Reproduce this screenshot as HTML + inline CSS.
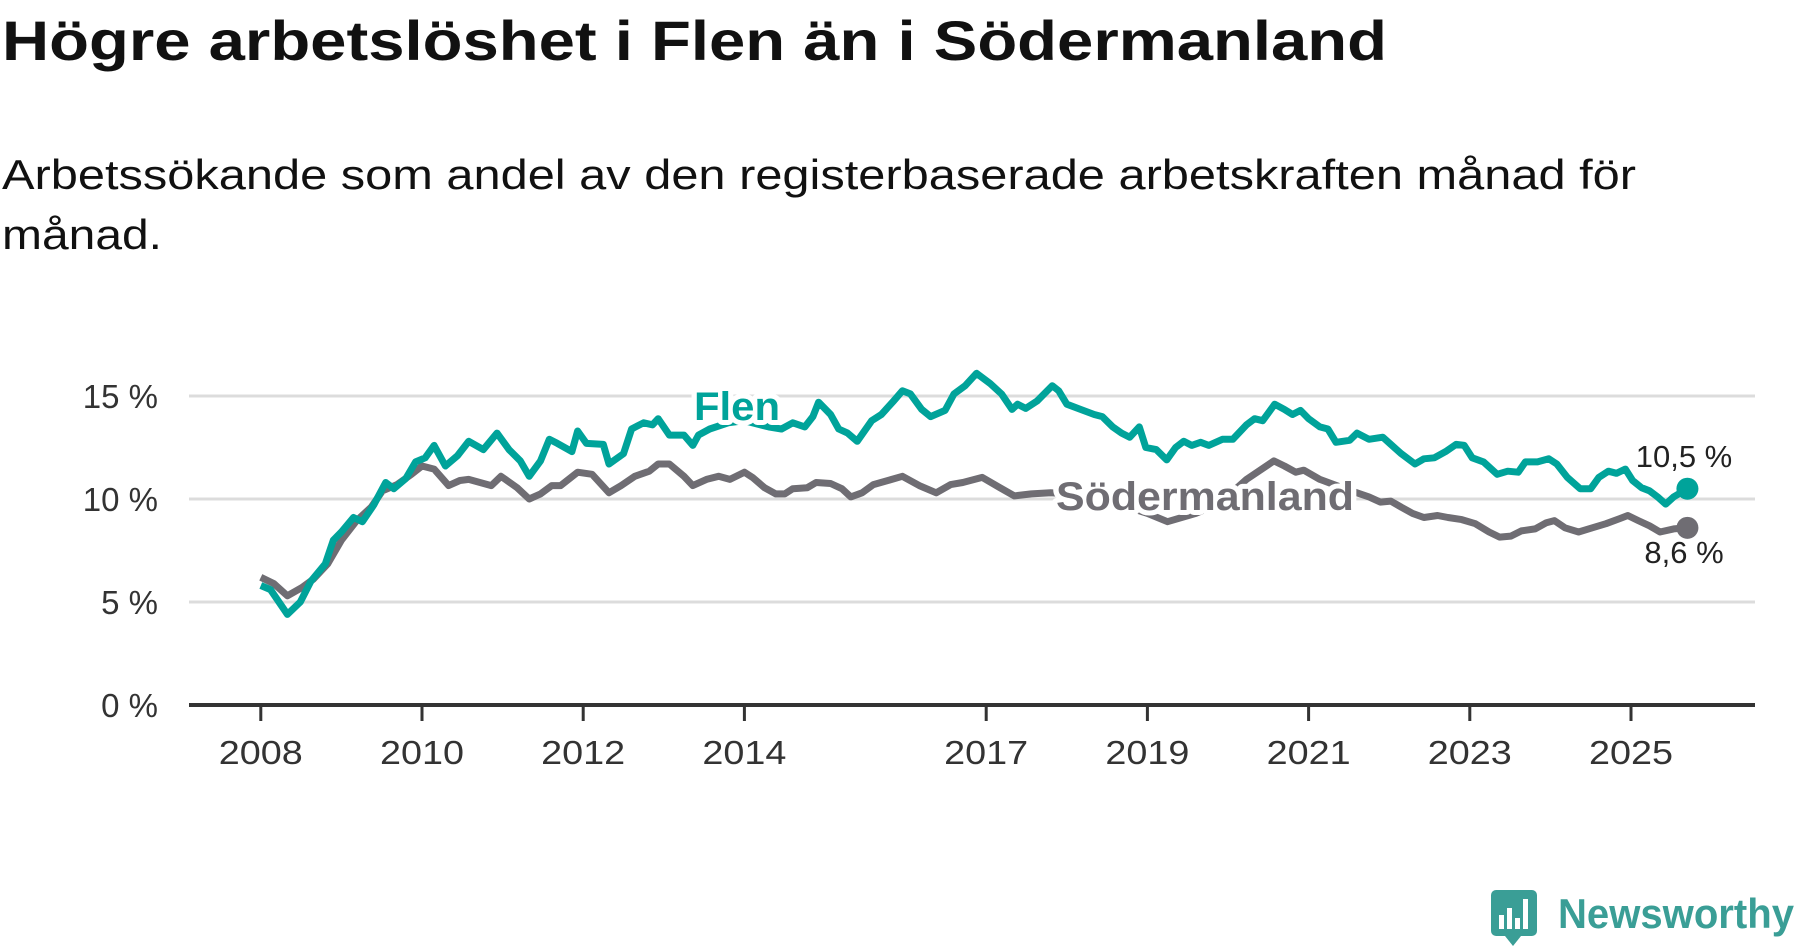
<!DOCTYPE html>
<html><head><meta charset="utf-8"><style>
html,body{margin:0;padding:0;background:#fff;}
svg{display:block;font-family:"Liberation Sans","DejaVu Sans",sans-serif;}
</style></head><body>
<svg id="chart" width="1800" height="948" viewBox="0 0 1800 948" xmlns="http://www.w3.org/2000/svg">
<text x="2" y="60" font-size="56" font-weight="bold" fill="#111" textLength="1385" lengthAdjust="spacingAndGlyphs">Högre arbetslöshet i Flen än i Södermanland</text>
<text x="2" y="189" font-size="42" fill="#111" textLength="1634" lengthAdjust="spacingAndGlyphs">Arbetssökande som andel av den registerbaserade arbetskraften månad för</text>
<text x="2" y="249" font-size="42" fill="#111" textLength="160" lengthAdjust="spacingAndGlyphs">månad.</text>
<g id="grid"></g>
<g id="yticks"></g>
<g id="xticks"></g>
<g id="series"></g>
<g id="labels"></g>
<g>
<rect x="1491" y="890" width="46" height="46" rx="5" fill="#3a9e96"/>
<polygon points="1505,936 1521,936 1513,946" fill="#3a9e96"/>
<rect x="1499" y="915" width="5" height="14" fill="#fff"/>
<rect x="1507" y="908" width="5" height="21" fill="#fff"/>
<rect x="1515" y="918" width="5" height="11" fill="#fff"/>
<rect x="1523" y="899" width="5" height="30" fill="#fff"/>
<text x="1558" y="928" font-size="42" font-weight="bold" fill="#3a9e96" textLength="236" lengthAdjust="spacingAndGlyphs">Newsworthy</text>
</g>
</svg>
<script>
const yTicks = [0, 5, 10, 15];
const yTickLabels = ["0 %", "5 %", "10 %", "15 %"];
const xTicks = [2008, 2010, 2012, 2014, 2017, 2019, 2021, 2023, 2025];
const flenDates = [2008.0,2008.12,2008.33,2008.49,2008.62,2008.8,2008.9,2009.0,2009.15,2009.26,2009.4,2009.55,2009.65,2009.8,2009.92,2010.04,2010.15,2010.29,2010.44,2010.58,2010.76,2010.93,2011.08,2011.22,2011.33,2011.47,2011.58,2011.68,2011.86,2011.93,2012.04,2012.25,2012.32,2012.5,2012.6,2012.75,2012.86,2012.93,2013.07,2013.25,2013.36,2013.43,2013.57,2013.8,2014.0,2014.3,2014.46,2014.6,2014.75,2014.85,2014.92,2015.07,2015.17,2015.28,2015.4,2015.58,2015.7,2015.85,2015.96,2016.06,2016.2,2016.31,2016.49,2016.6,2016.74,2016.88,2017.05,2017.19,2017.32,2017.39,2017.49,2017.63,2017.82,2017.9,2018.0,2018.17,2018.34,2018.44,2018.57,2018.68,2018.78,2018.9,2018.98,2019.11,2019.24,2019.35,2019.45,2019.55,2019.66,2019.76,2019.93,2020.06,2020.23,2020.33,2020.43,2020.58,2020.7,2020.8,2020.9,2021.0,2021.14,2021.24,2021.34,2021.51,2021.6,2021.75,2021.92,2022.02,2022.15,2022.32,2022.43,2022.56,2022.7,2022.83,2022.93,2023.03,2023.17,2023.34,2023.47,2023.6,2023.69,2023.84,2023.98,2024.08,2024.21,2024.37,2024.5,2024.6,2024.72,2024.82,2024.93,2025.02,2025.13,2025.23,2025.33,2025.43,2025.53,2025.7];
const flenValues = [5.8,5.6,4.4,5.0,6.0,6.85,8.0,8.4,9.1,8.9,9.7,10.8,10.5,11.0,11.8,12.0,12.6,11.6,12.1,12.8,12.4,13.2,12.4,11.85,11.1,11.85,12.9,12.7,12.3,13.3,12.7,12.65,11.7,12.2,13.4,13.7,13.6,13.9,13.1,13.1,12.6,13.1,13.4,13.7,13.8,13.5,13.4,13.7,13.5,14.0,14.7,14.1,13.4,13.2,12.8,13.8,14.1,14.75,15.25,15.1,14.35,14.0,14.3,15.1,15.5,16.1,15.6,15.1,14.35,14.6,14.4,14.75,15.5,15.25,14.6,14.35,14.1,14.0,13.5,13.2,13.0,13.5,12.5,12.4,11.9,12.5,12.8,12.6,12.75,12.6,12.9,12.9,13.6,13.9,13.8,14.6,14.35,14.1,14.3,13.9,13.5,13.4,12.75,12.85,13.2,12.9,13.0,12.65,12.2,11.7,11.95,12.0,12.3,12.65,12.6,12.0,11.8,11.2,11.35,11.3,11.8,11.8,11.95,11.7,11.05,10.5,10.5,11.05,11.35,11.25,11.45,10.9,10.55,10.4,10.1,9.75,10.1,10.5];
const sodDates = [2008.0,2008.16,2008.33,2008.51,2008.65,2008.83,2009.0,2009.19,2009.37,2009.51,2009.69,2009.87,2010.0,2010.15,2010.33,2010.47,2010.58,2010.72,2010.86,2010.98,2011.18,2011.33,2011.47,2011.61,2011.72,2011.93,2012.11,2012.32,2012.47,2012.64,2012.82,2012.93,2013.07,2013.25,2013.36,2013.53,2013.68,2013.82,2014.0,2014.1,2014.25,2014.39,2014.5,2014.6,2014.78,2014.89,2015.07,2015.21,2015.32,2015.46,2015.6,2015.78,2015.96,2016.17,2016.38,2016.56,2016.71,2016.95,2017.17,2017.35,2017.56,2017.8,2018.2,2018.6,2019.0,2019.25,2019.6,2019.9,2020.23,2020.57,2020.7,2020.84,2020.94,2021.14,2021.45,2021.75,2021.89,2022.02,2022.15,2022.29,2022.43,2022.6,2022.73,2022.9,2023.07,2023.24,2023.37,2023.51,2023.64,2023.81,2023.95,2024.05,2024.18,2024.35,2024.52,2024.69,2024.86,2024.96,2025.09,2025.23,2025.36,2025.53,2025.7];
const sodValues = [6.2,5.9,5.3,5.7,6.1,6.85,8.0,8.95,9.6,10.4,10.7,11.2,11.6,11.45,10.65,10.9,10.95,10.8,10.65,11.1,10.55,10.0,10.25,10.65,10.65,11.3,11.2,10.3,10.65,11.1,11.35,11.7,11.7,11.1,10.65,10.95,11.1,10.95,11.3,11.05,10.55,10.25,10.25,10.5,10.55,10.8,10.75,10.5,10.1,10.3,10.7,10.9,11.1,10.65,10.3,10.7,10.8,11.05,10.55,10.15,10.25,10.3,10.2,9.8,9.3,8.9,9.3,9.8,10.95,11.85,11.6,11.3,11.4,10.95,10.5,10.1,9.85,9.9,9.6,9.3,9.1,9.2,9.1,9.0,8.8,8.4,8.15,8.2,8.45,8.55,8.85,8.95,8.6,8.4,8.6,8.8,9.05,9.2,8.95,8.7,8.4,8.55,8.6];
const NS="http://www.w3.org/2000/svg";
const X0=189,X1=1755;
function xs(t){return 260.8+(t-2008)*80.6;}
function ys(v){return 705-v*20.6;}
function mk(tag,attrs,parent){const e=document.createElementNS(NS,tag);for(const k in attrs)e.setAttribute(k,attrs[k]);parent.appendChild(e);return e;}
const grid=document.getElementById('grid'),yt=document.getElementById('yticks'),xt=document.getElementById('xticks'),ser=document.getElementById('series'),lab=document.getElementById('labels');
yTicks.forEach((v,i)=>{
  if(v>0){const g=mk('line',{x1:X0,x2:X1,y1:ys(v),y2:ys(v),stroke:'#dcdcdc','stroke-width':3},grid);
  
  }
  const t=mk('text',{x:158,y:ys(v)+12,'text-anchor':'end','font-size':33,fill:'#333'},yt);
  t.textContent=yTickLabels[i];
  
  
});
const ax=mk('line',{x1:X0,x2:X1,y1:705,y2:705,stroke:'#333','stroke-width':4},xt);


xTicks.forEach(y=>{
  const tk=mk('line',{x1:xs(y),x2:xs(y),y1:705,y2:721,stroke:'#333','stroke-width':3},xt);
  
  
  const t=mk('text',{x:xs(y),y:764,'text-anchor':'middle','font-size':33,fill:'#333',textLength:84,lengthAdjust:'spacingAndGlyphs'},xt);
  t.textContent=String(y);
  
  
});
function path(d,v){return d.map((t,i)=>(i?'L':'M')+xs(t).toFixed(1)+','+ys(v[i]).toFixed(1)).join('');}
const ps=mk('path',{d:path(sodDates,sodValues),fill:'none',stroke:'#6f6d73','stroke-width':7,'stroke-linejoin':'round'},ser);


const pf=mk('path',{d:path(flenDates,flenValues),fill:'none',stroke:'#00a39a','stroke-width':7,'stroke-linejoin':'round'},ser);


const ls=sodDates.length-1,lf=flenDates.length-1;
const ds=mk('circle',{cx:xs(sodDates[ls]),cy:ys(sodValues[ls]),r:11,fill:'#6f6d73'},ser);


const df=mk('circle',{cx:xs(flenDates[lf]),cy:ys(flenValues[lf]),r:11,fill:'#00a39a'},ser);


function halo(txt,x,y,size,fill,name,anchor){
  const t=mk('text',{x:x,y:y,'font-size':size,'font-weight':'bold',fill:fill,stroke:'#fff','stroke-width':10,'paint-order':'stroke','stroke-linejoin':'round','text-anchor':anchor||'start'},lab);
  t.textContent=txt;
  
  
  return t;
}
const fl=halo('Flen',694,420,40,'#00a39a','flen-label');
fl.setAttribute('textLength','86');
fl.setAttribute('lengthAdjust','spacingAndGlyphs');
const sl=halo('Södermanland',1056,510,40,'#6f6d73','sodermanland-label');
sl.setAttribute('textLength','298');
sl.setAttribute('lengthAdjust','spacingAndGlyphs');
const v1=mk('text',{x:1684,y:467,'text-anchor':'middle','font-size':31,fill:'#222'},lab);
v1.textContent=flenValues[lf].toFixed(1).replace('.',',')+' %';


const v2=mk('text',{x:1684,y:563,'text-anchor':'middle','font-size':31,fill:'#222'},lab);
v2.textContent=sodValues[ls].toFixed(1).replace('.',',')+' %';


</script>
</body></html>
